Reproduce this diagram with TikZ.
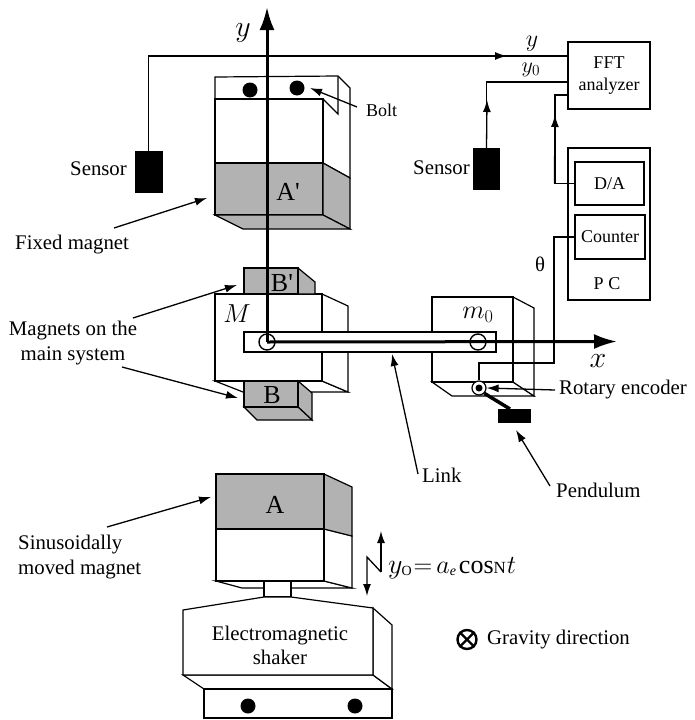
\documentclass[tikz,border=0pt]{standalone}
\usepackage{fix-cm}
\usepackage{fontspec}
\setmainfont{Liberation Serif}
\usetikzlibrary{arrows.meta}
\definecolor{magnet}{RGB}{178,178,178}
\newcommand{\fsz}[1]{\fontsize{#1}{#1}\selectfont}
\begin{document}
\begin{tikzpicture}[x=1pt,y=-1pt,font=\fsz{20.8},line join=miter,
  body/.style={draw,line width=1.2pt,fill=white},
  mag/.style={draw,line width=1.2pt,fill=magnet},
  blk/.style={draw=none,fill=black,inner sep=0pt},
  unit/.style={draw,line width=1.2pt,inner sep=0pt,align=center,font=\fsz{18}},
  lab/.style={inner sep=0pt,align=left,anchor=west},
  ax/.style={-{Latex[length=23pt,width=15pt]},line width=3pt},
  ed/.style={-{Latex[length=12pt,width=8pt]},line width=1.3pt},
  wire/.style={line width=1.2pt},
  big/.style={font=\fsz{26},inner sep=0pt}]
\useasboundingbox (0,0) rectangle (694,720);
% fixed magnet
\draw[body] (215,77) -- (338,76) -- (350,88) -- (350,178) -- (323,163) -- (323,99) -- (215,99) -- cycle;
\draw[body] (338,76) -- (338,114) -- (323,99);
\draw[body] (215,99) rectangle (323,163);
\draw[mag] (215,163) rectangle (323,215);
\draw[mag] (323,163) -- (350,178) -- (350,229) -- (323,215) -- cycle;
\draw[mag] (215,215) -- (243,229) -- (350,229) -- (323,215) -- cycle;
\fill (250,90) circle (7.5) (297,88) circle (7.5);
% block M
\draw[body] (215,381) -- (243,392) -- (348,392) -- (322,381) -- cycle;
\draw[body] (322,294) -- (348,306) -- (348,392) -- (322,381) -- cycle;
\draw[body] (215,294) rectangle (322,381);
\draw[mag] (298,268) -- (315,282) -- (315,294) -- (298,294) -- cycle;
\draw[mag] (244,268) rectangle (298,294);
\draw[mag] (298,381) -- (312,393) -- (312,420) -- (298,407) -- cycle;
\draw[mag] (244,407) -- (257,420) -- (312,420) -- (298,407) -- cycle;
\draw[mag] (244,381) rectangle (298,407);
% block m0
\draw[body] (432,382) -- (452,396) -- (534,396) -- (513,382) -- cycle;
\draw[body] (513,297) -- (534,308) -- (534,396) -- (513,382) -- cycle;
\draw[body] (432,297) rectangle (513,382);
% link
\draw[body] (244,332) rectangle (496,352);
% lower magnet and shaker
\draw[body] (216,581) -- (242,588) -- (352,588) -- (324,581) -- cycle;
\draw[body] (324,529) -- (352,536) -- (352,588) -- (324,581) -- cycle;
\draw[body] (216,529) rectangle (324,581);
\draw[mag] (324,474) -- (352,487) -- (352,536) -- (324,529) -- cycle;
\draw[mag] (216,474) rectangle (324,529);
\draw[body] (264,581) rectangle (291,597);
\draw[body] (183,675) -- (204,689) -- (392,689) -- (373,675) -- cycle;
\draw[body] (373,608) -- (392,625) -- (392,689) -- (373,675) -- cycle;
\draw[body] (183,610) -- (264,597) -- (291,597) -- (373,608) -- (373,675) -- (183,675) -- cycle;
\draw[body] (204,689) rectangle (392,718);
\fill (248,706) circle (7.5) (355,706) circle (7.5);
% letters on the blocks
\node[big] (na) at (288,192) {A\textquotesingle};
\node[big] (nbb) at (282,283) {B\textquotesingle};
\node[big] (nb) at (272,395) {B};
\node[big] (nal) at (275,505) {A};
\node[big] (nm) at (237,314) {$M$};
\node[big] (nmz) at (478,315) {$m_0$};
\node[font=\fsz{20.8},align=center,inner sep=0pt] (shk) at (280,645) {Electromagnetic\\[3pt]shaker};
% instruments
\node[blk,minimum width=28pt,minimum height=42pt] (sl) at (148.5,172) {};
\node[blk,minimum width=27pt,minimum height=42pt] (sr) at (486.5,169) {};
\node[unit,minimum width=82pt,minimum height=67pt] (fft) at (609,75.5) {FFT\\[4pt]analyzer};
\node[unit,minimum width=82pt,minimum height=152pt] (pc) at (609,224) {};
\node[unit,minimum width=69pt,minimum height=43pt] (da) at (609.5,183.5) {D/A};
\node[unit,minimum width=70pt,minimum height=44pt] (cnt) at (610,237) {Counter};
\node[inner sep=0pt,font=\fsz{18}] (pct) at (607,284) {P C};
\coordinate (fy) at (568,56);
\coordinate (fz) at (568,82);
\coordinate (fa) at (568,95);
\coordinate (ar) at (507,56);
\coordinate (az) at (487,100);
\coordinate (aa) at (555,115);
\draw[wire] (sl.north) |- (fy);
\draw[ed] (sl.north) ++(0,-95) -- (ar);
\draw[wire] (sr.north) |- (fz);
\draw[ed] (sr.north) -- (az);
\draw[wire] (da.west) -| (aa) |- (fa);
\draw[ed] (da.west) ++(-20,0) -- (aa);
% encoder and pendulum
\node[draw,circle,line width=1.2pt,fill=white,minimum size=14pt,inner sep=0pt] (enc) at (479,388) {};
\fill (enc) circle (3.5);
\node[blk,minimum width=33pt,minimum height=14pt] (pen) at (514.5,416) {};
\draw[line width=3.5pt] (enc.south east) -- (510,409);
\draw[wire] (cnt.west) -| (554,363) -| (enc.north);
% axes
\node[draw,circle,line width=1.4pt,minimum size=16pt,inner sep=0pt] (pm) at (267,342) {};
\node[draw,circle,line width=1.4pt,minimum size=16pt,inner sep=0pt] (pz) at (478,342) {};
\coordinate (yt) at (267,7);
\coordinate (xt) at (617,341.5);
\draw[ax] (pm.center) -- (yt);
\draw[ax] (pm.center) -- (xt);
\node[inner sep=0pt,font=\fsz{30}] (ly) at (243,33) {$y$};
\node[inner sep=0pt,font=\fsz{30}] (lx) at (598,361) {$x$};
\node[inner sep=0pt,font=\fsz{24}] (ly1) at (532,44) {$y$};
\node[inner sep=0pt,font=\fsz{22}] (ly0) at (531,70) {$y_0$};
\node[inner sep=0pt,font=\fsz{20.8}] (lth) at (540,264) {θ};
% labels
\node[lab] (ls1) at (70,169) {Sensor};
\node[lab] (ls2) at (413,168) {Sensor};
\node[lab,font=\fsz{18}] (lbo) at (366,110) {Bolt};
\coordinate (tbo) at (310,88);
\draw[ed] (lbo.west) ++(-9,-3) -- (tbo);
\node[lab] (lfm) at (15,245) {Fixed magnet};
\coordinate (tfm) at (207,198);
\draw[ed] (114,228) -- (tfm);
\node[inner sep=0pt,align=center] (lms) at (73,343) {Magnets on the\\[5pt]main system};
\coordinate (tm1) at (237,285);
\coordinate (tm2) at (238,398);
\draw[ed] (133,318) -- (tm1);
\draw[ed] (122,367) -- (tm2);
\node[lab] (llk) at (422,475) {Link};
\coordinate (tlk) at (392,354);
\draw[ed] (418,474) -- (tlk);
\node[lab] (lre) at (559,390) {Rotary encoder};
\draw[ed] (lre.west) ++(-4,0) -- (enc.east);
\node[lab] (lpe) at (556,490) {Pendulum};
\coordinate (tpe) at (516,430);
\draw[ed] (550,486) -- (tpe);
\node[lab] (lsi) at (18,557) {Sinusoidally\\[5pt]moved magnet};
\coordinate (tsi) at (211,497);
\draw[ed] (107,527) -- (tsi);
% shaker motion
\coordinate (mu) at (381,531);
\coordinate (md) at (367,596);
\draw[ed] (381,572) -- (mu);
\draw[ed] (381,572) -- (367,557) -- (md);
\node[lab,font=\fsz{26}] (lmo) at (388,568) {{\fsz{28}$y$}\kern-1pt\raisebox{-2pt}{\fsz{14}O}\kern2pt$=$\kern4pt$a$\raisebox{-2pt}{\fsz{14}\itshape e}\kern3pt cos{\fsz{17}N}\kern1pt$t$};
% gravity
\node[draw,circle,line width=2.4pt,minimum size=19pt,inner sep=0pt] (grv) at (467,639.5) {};
\draw[line width=2.4pt] (grv.north west) -- (grv.south east) (grv.north east) -- (grv.south west);
\node[lab] (lgr) at (487,640) {Gravity direction};
\end{tikzpicture}
\end{document}
